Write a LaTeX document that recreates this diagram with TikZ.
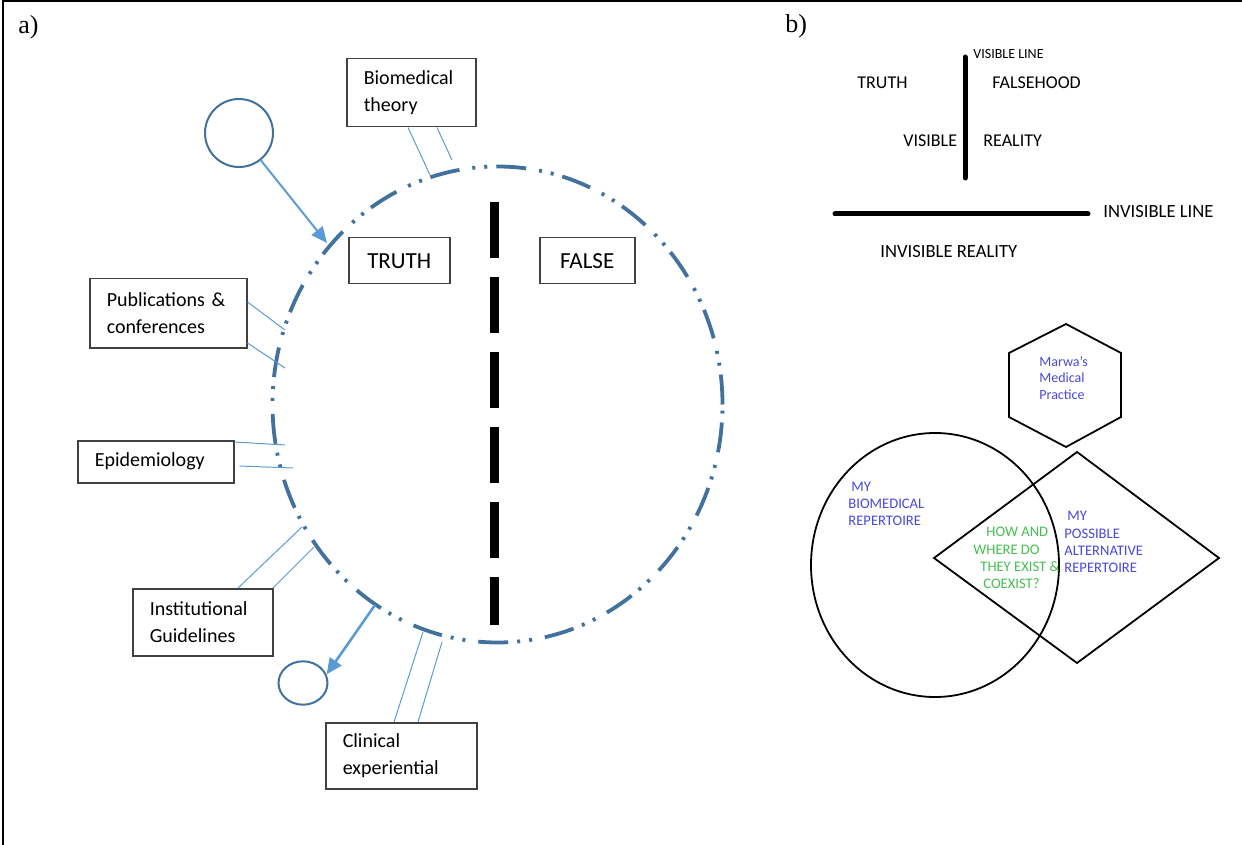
\documentclass[tikz,border=0pt]{standalone}
\usepackage{fontspec}
\setmainfont{Carlito}
\newfontfamily\serifletter{Liberation Serif}
\usetikzlibrary{arrows.meta,calc,shapes.geometric}
\definecolor{ringblue}{RGB}{65,113,156}
\definecolor{linkblue}{RGB}{91,155,213}
\definecolor{boxgray}{RGB}{64,64,64}
\definecolor{textblue}{RGB}{72,72,220}
\definecolor{textgreen}{RGB}{70,190,80}
\tikzset{
  ring/.style={draw=ringblue, line width=1.9pt, dash pattern=on 15pt off 4.5pt on 1.5pt off 4.5pt on 1.5pt off 6.5pt},
  smallring/.style={draw=ringblue, line width=1pt, inner sep=0pt},
  flow/.style={linkblue, line width=1pt, -{Triangle[length=8pt,width=7pt]}},
  link/.style={linkblue, line width=0.5pt},
  divider/.style={line width=4.5pt, dash pattern=on 28pt off 9.5pt},
  labelbox/.style={draw=boxgray, line width=0.75pt, anchor=north west, align=left, inner xsep=8.5pt, inner ysep=0pt, font=\fontsize{10}{13.5}\selectfont},
  wordbox/.style={draw=boxgray, line width=0.75pt, anchor=north west, minimum height=23pt, inner sep=0pt, font=\fontsize{11.5}{14}\selectfont},
  barline/.style={line width=2.5pt, line cap=round},
  plain/.style={anchor=west, inner sep=0pt, font=\fontsize{9}{11}\selectfont},
  venntext/.style={anchor=west, inner sep=0pt, align=left, font=\fontsize{7.3}{8.6}\selectfont},
  tag/.style={anchor=west, inner sep=0pt, font=\serifletter\fontsize{13}{15}\selectfont}
}
\begin{document}
\begin{tikzpicture}[x=0.5pt, y=-0.5pt]
  \useasboundingbox (0,0) rectangle (1242,845);
  % frame
  \coordinate (F1) at (3,845);
  \coordinate (F2) at (3,1);
  \coordinate (F3) at (1242,1);
  \draw[line width=1pt] (F1) -- (F2) -- (F3);
  \node[tag] (tagA) at (18,27) {a)};
  \node[tag] (tagB) at (785,26) {b)};

  % a) the ring of knowledge
  \coordinate (R) at (497.5,404.5);
  \draw[ring] (R) ellipse [x radius=112.5pt, y radius=119pt];
  \coordinate (D1) at (494,202);
  \coordinate (D2) at (494,625);
  \draw[divider] (D1) -- (D2);
  \node[wordbox, minimum width=50.5pt] (truth) at (348,237) {TRUTH};
  \node[wordbox, minimum width=47.5pt] (false) at (539,237) {FALSE};

  \node[labelbox, text width=47.5pt, minimum height=34pt] (bio) at (346,58) {Biomedical\\theory};
  \node[labelbox, text width=61.5pt, minimum height=34.5pt] (pub) at (89,278) {Publications \&\\conferences};
  \node[labelbox, text width=61pt, minimum height=21pt] (epi) at (77,440) {Epidemiology};
  \node[labelbox, text width=53pt, minimum height=33.5pt] (inst) at (132,588) {Institutional\\Guidelines};
  \node[labelbox, text width=58.5pt, minimum height=33pt] (clin) at (325,722) {Clinical\\experiential};

  \coordinate (b1) at (430,175);
  \coordinate (b2) at (452,160);
  \coordinate (p1) at (285,330);
  \coordinate (p2) at (285,368);
  \coordinate (e1) at (285,445);
  \coordinate (e2) at (293,468);
  \coordinate (i1) at (302,527);
  \coordinate (i2) at (314,547);
  \coordinate (c1) at (423,632);
  \coordinate (c2) at (442,642);
  \draw[link] ($(bio.south west)+(62,0)$) -- (b1);
  \draw[link] ($(bio.south west)+(91,0)$) -- (b2);
  \draw[link] ($(pub.north east)+(0,24)$) -- (p1);
  \draw[link] ($(pub.north east)+(0,65)$) -- (p2);
  \draw[link] ($(epi.north east)+(0,2)$) -- (e1);
  \draw[link] ($(epi.north east)+(5,26)$) -- (e2);
  \draw[link] ($(inst.north west)+(106,0)$) -- (i1);
  \draw[link] ($(inst.north west)+(141,0)$) -- (i2);
  \draw[link] ($(clin.north west)+(69,0)$) -- (c1);
  \draw[link] ($(clin.north west)+(93,0)$) -- (c2);

  \node[smallring, circle, minimum size=34pt] (src) at (239,133) {};
  \coordinate (srcend) at (327,243);
  \draw[flow] (src) -- (srcend);
  \node[smallring, ellipse, minimum width=24.5pt, minimum height=21.7pt] (sink) at (303,683) {};
  \coordinate (sinkstart) at (375,605);
  \draw[flow, line width=1.3pt] (sinkstart) -- (sink.20);

  % b) visible and invisible
  \coordinate (V1) at (965,57);
  \coordinate (V2) at (965,178);
  \coordinate (H1) at (835,214);
  \coordinate (H2) at (1088,214);
  \draw[barline] (V1) -- (V2);
  \draw[barline] (H1) -- (H2);
  \node[plain, font=\fontsize{7}{8}\selectfont] (visline) at (973,54) {VISIBLE LINE};
  \node[plain] (truthword) at (857,83) {TRUTH};
  \node[plain] (falsehood) at (992,83) {FALSEHOOD};
  \node[plain] (visible) at (903,141) {VISIBLE};
  \node[plain] (reality) at (983,141) {REALITY};
  \node[plain, font=\fontsize{9.3}{11}\selectfont] (invline) at (1103,212) {INVISIBLE LINE};
  \node[plain, font=\fontsize{9.3}{11}\selectfont] (invreality) at (880,252) {INVISIBLE REALITY};

  % hexagon
  \coordinate (X1) at (1066,324);
  \coordinate (X2) at (1121,353);
  \coordinate (X3) at (1121,417);
  \coordinate (X4) at (1066,447);
  \coordinate (X5) at (1009,417);
  \coordinate (X6) at (1009,353);
  \draw[line width=0.9pt] (X1) -- (X2) -- (X3) -- (X4) -- (X5) -- (X6) -- cycle;
  \node[venntext, text=textblue, font=\fontsize{7}{8.3}\selectfont] (practice) at (1039,378) {Marwa's\\Medical\\Practice};

  % repertoires
  \coordinate (C) at (935,565);
  \draw[line width=0.9pt] (C) ellipse [x radius=62pt, y radius=66pt];
  \coordinate (Q1) at (1077,452);
  \coordinate (Q2) at (1219,558);
  \coordinate (Q3) at (1077,663);
  \coordinate (Q4) at (934,558);
  \draw[line width=0.9pt] (Q1) -- (Q2) -- (Q3) -- (Q4) -- cycle;
  \node[venntext, text=textblue] (bioreper) at (848,504) {\hspace{1.5pt}MY\\BIOMEDICAL\\REPERTOIRE};
  \node[venntext, text=textblue] (altreper) at (1064,542) {\hspace{1.5pt}MY\\POSSIBLE\\ALTERNATIVE\\REPERTOIRE};
  \node[venntext, text=textgreen] (coexist) at (973,558) {\hspace{6.5pt}HOW AND\\WHERE DO\\\hspace{3.5pt}THEY EXIST \&\\\hspace{5pt}COEXIST?};
\end{tikzpicture}
\end{document}
